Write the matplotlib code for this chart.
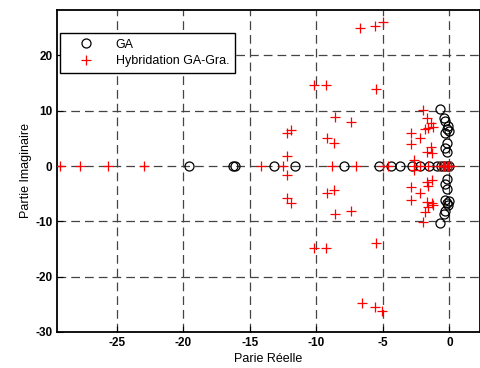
import matplotlib
matplotlib.use("Agg")
import matplotlib.pyplot as plt

plt.rcParams['font.family'] = ['Liberation Sans', 'DejaVu Sans']
plt.rcParams['axes.unicode_minus'] = False

# GA poles (black circles)
ga_re = [-19.6, -16.3, -16.1, -13.2, -11.6, -7.9, -5.3, -4.4, -3.7, -2.8, -2.2, -1.5,
         -0.9, -0.6, -0.4, -0.2, -0.05,
         -0.7, -0.4, -0.3, -0.1, -0.2, 0.0, -0.3, -0.2, -0.3, -0.2,
         -0.7, -0.4, -0.3, -0.1, -0.2, 0.0, -0.3, -0.2, -0.3, -0.2]
ga_im = [0, 0, 0, 0, 0, 0, 0, 0, 0, 0, 0, 0,
         0, 0, 0, 0, 0,
         10.4, 8.6, 8.2, 7.2, 6.7, 6.4, 6.0, 4.2, 3.3, 2.5,
         -10.3, -8.6, -8.2, -7.1, -6.7, -6.4, -6.1, -4.1, -3.2, -2.3]

# Hybridation GA-Gra. poles (red crosses)
hy_re = [-29.3, -27.8, -25.7, -23.0, -14.2, -12.5, -8.8, -7.0, -5.0, -4.6,
         -2.7, -2.2, -1.6, -0.8, -0.6, -0.5, -0.4, -0.3, -0.2, -0.1, 0.0, 0.1,
         -6.7, -5.6, -5.0, -5.5, -10.2, -9.3, -8.6, -7.4, -9.2, -8.7,
         -12.2, -11.9, -12.2,
         -2.0, -1.7, -1.4, -1.6, -1.2, -1.8, -2.9, -2.2, -2.9, -1.4, -1.7, -1.3, -2.7,
         -6.6, -5.6, -5.1, -5.5, -10.2, -9.3, -8.6, -7.4, -9.2, -8.7,
         -12.2, -11.9, -12.2,
         -2.0, -1.8, -1.6, -1.3, -1.7, -1.2, -1.6, -2.9, -2.2, -2.9, -1.3, -1.7, -2.7]
hy_im = [0, 0, 0, 0, 0, 0, 0, 0, 0, 0,
         0, 0, 0, 0, 0, 0, 0, 0, 0, 0, 0, 0,
         24.9, 25.3, 26.0, 13.9, 14.6, 14.6, 8.9, 8.0, 5.1, 4.2,
         6.0, 6.5, 1.8,
         10.1, 8.7, 7.8, 6.9, 7.1, 6.7, 6.0, 5.1, 4.0, 3.4, 2.5, 2.3, 1.1,
         -24.8, -25.5, -26.2, -13.9, -14.8, -14.8, -8.7, -8.1, -4.9, -4.3,
         -5.8, -6.7, -1.6,
         -10.1, -8.3, -7.4, -6.7, -6.5, -7.0, -3.6, -3.8, -4.9, -6.1, -2.5, -2.9, -0.7]

xticks = [-25, -20, -15, -10, -5, 0]
yticks = [-30, -20, -10, 0, 10, 20]

fig = plt.figure(figsize=(4.8, 3.68), dpi=100)
ax = fig.add_axes([0.119, 0.098, 0.881, 0.876])

ax.plot(ga_re, ga_im, linestyle='none', marker='o', markersize=6.5, markerfacecolor='none',
        markeredgecolor='black', markeredgewidth=0.9, label='GA', zorder=3)
ax.plot(hy_re, hy_im, linestyle='none', marker='+', markersize=7, color='red',
        markeredgewidth=0.9, label='Hybridation GA-Gra.', zorder=4)

ax.set_xlim(-29.5, 2.3)
ax.set_ylim(-30, 28.3)
ax.set_xticks(xticks)
ax.set_yticks(yticks)
ax.tick_params(direction='in', length=4, width=0.8, labelsize=8.5)
for lab in ax.get_xticklabels() + ax.get_yticklabels():
    lab.set_fontweight('bold')
ax.grid(True, color='#444444', linestyle=(0, (7, 4)), linewidth=0.9)
for s in ax.spines.values():
    s.set_linewidth(1.3)

ax.set_xlabel('Parie Réelle', fontsize=9, labelpad=3)
ax.set_ylabel('Partie Imaginaire', fontsize=9, labelpad=2)

leg = ax.legend(loc='upper left', bbox_to_anchor=(0.007, 0.927), borderaxespad=0,
                fontsize=9, frameon=True, fancybox=False, edgecolor='black',
                framealpha=1, borderpad=0.45, handlelength=3.2, handletextpad=0.8,
                labelspacing=0.35)
leg.get_frame().set_linewidth(1.0)

fig.savefig('out.png', dpi=100)
